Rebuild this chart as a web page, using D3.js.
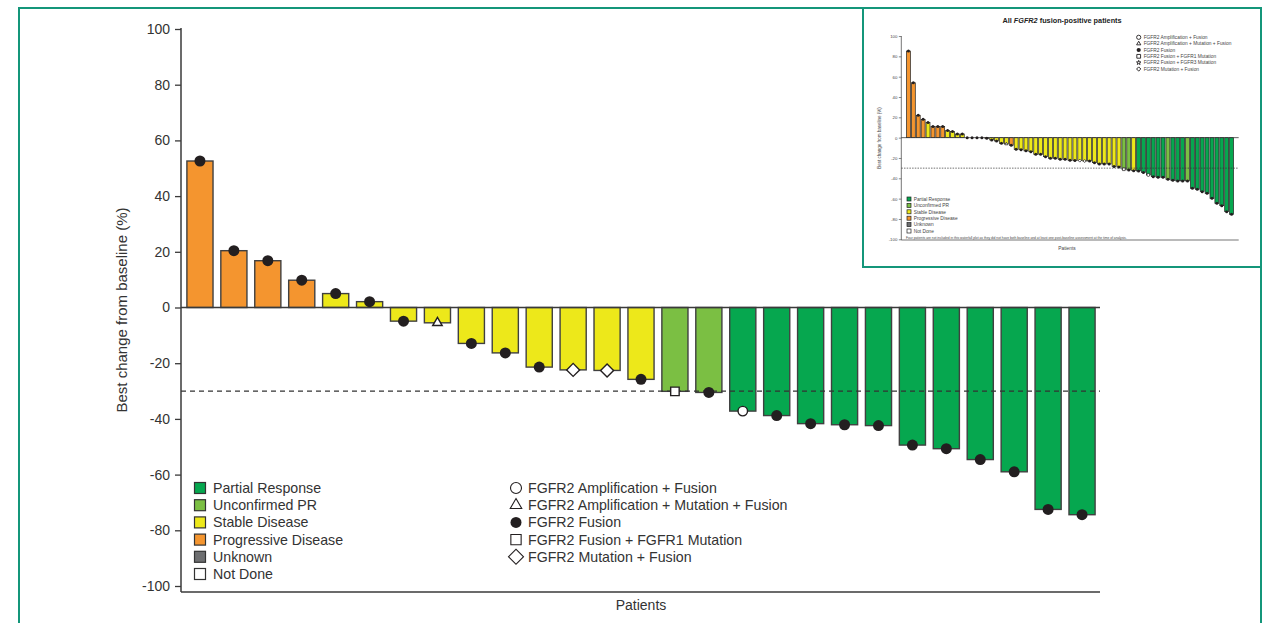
<!DOCTYPE html>
<html>
<head>
<meta charset="utf-8">
<script src="https://cdn.jsdelivr.net/npm/d3@7/dist/d3.min.js"></script>
<style>
    body { margin: 0; background: #fff; }
    svg { display: block; font-family: "Liberation Sans", Arial, sans-serif; }
</style>
</head>
<body>
<div id="chart"></div>
<script>
// ---- main waterfall (27 patients) ----
const patientValues = [52.6, 20.4, 16.8, 9.8, 5.0, 2.1, -4.9, -5.5, -12.9, -16.3, -21.4, -22.4, -22.6, -25.8,
    -30.1, -30.5, -37.2, -38.8, -41.7, -42.1, -42.4, -49.4, -50.7, -54.6, -59.0, -72.5, -74.4];
const patientResponse = ["PD", "PD", "PD", "PD", "SD", "SD", "SD", "SD", "SD", "SD", "SD", "SD", "SD", "SD",
    "uPR", "uPR", "PR", "PR", "PR", "PR", "PR", "PR", "PR", "PR", "PR", "PR", "PR"];
const patientMarker = ["fus", "fus", "fus", "fus", "fus", "fus", "fus", "ampMut", "fus", "fus", "fus", "mut", "mut", "fus",
    "fgfr1", "fus", "amp", "fus", "fus", "fus", "fus", "fus", "fus", "fus", "fus", "fus", "fus"];

// ---- inset waterfall (all FGFR2 fusion-positive, 67 patients) ----
const insetValues = [85.2, 54, 22, 18, 14.8, 11, 11, 11, 7, 6, 3.6, 3.6, 0, 0, 0, 0, -0.6, -2.3, -3.3,
    -5.6, -6.2, -7.5, -11.5, -11.8, -13, -13.8, -16.4, -16.4, -18.7, -20.3, -20.3, -21.3, -21.3, -22.3, -22.6,
    -22.6, -23, -23, -24.6, -25.9, -25.9, -25.9, -28.5, -28.9, -31.1, -31.8, -32.5, -32.8, -34.4, -36.7, -38.4,
    -39, -39, -41, -42, -42.6, -42.6, -42.6, -49.8, -50.8, -53.1, -54.8, -59.7, -64.6, -66.9, -72.8, -75.4];
const insetResponse = ["PD", "PD", "PD", "PD", "SD", "PD", "PD", "PD", "SD", "SD", "SD", "SD", "SD", "SD", "SD", "SD",
    "SD", "SD", "SD", "SD", "SD", "PD", "SD", "SD", "SD", "SD", "SD", "SD", "SD", "SD", "SD", "SD", "SD", "SD", "SD",
    "SD", "SD", "SD", "SD", "SD", "SD", "SD", "SD", "SD", "uPR", "uPR", "SD", "PR", "PR", "PR", "PR", "PR", "PR",
    "uPR", "PR", "PR", "PR", "uPR", "PR", "PR", "PR", "PR", "PR", "PR", "PR", "PR", "PR"];
const insetMarkerOverrides = { 20: "ampMut", 35: "mut", 36: "mut", 44: "fgfr1", 49: "amp" };

// ---- shared labels ----
const yTicks = [100, 80, 60, 40, 20, 0, -20, -40, -60, -80, -100];
const responseCodes = ["PR", "uPR", "SD", "PD", "UNK", "ND"];
const responseLabels = ["Partial Response", "Unconfirmed PR", "Stable Disease", "Progressive Disease", "Unknown", "Not Done"];
const responseColors = ["#06a74f", "#7bbf43", "#ede81a", "#f4952f", "#6d6e70", "#ffffff"];
const mainMarkerCodes = ["amp", "ampMut", "fus", "fgfr1", "mut"];
const mainMarkerLabels = ["FGFR2 Amplification + Fusion", "FGFR2 Amplification + Mutation + Fusion", "FGFR2 Fusion",
    "FGFR2 Fusion + FGFR1 Mutation", "FGFR2 Mutation + Fusion"];
const insetMarkerCodes = ["amp", "ampMut", "fus", "fgfr1", "fgfr3", "mut"];
const insetMarkerLabels = ["FGFR2 Amplification + Fusion", "FGFR2 Amplification + Mutation + Fusion", "FGFR2 Fusion",
    "FGFR2 Fusion + FGFR1 Mutation", "FGFR2 Fusion + FGFR3 Mutation", "FGFR2 Mutation + Fusion"];
const cutoff = -30;

const WIDTH = 1262, HEIGHT = 623;
const FRAME = "#14967a";
const INK = "#231f20";
const AXIS = "#3a3a3a";

const colorOf = d3.scaleOrdinal().domain(responseCodes).range(responseColors);
// plain hyphen minus like the source figure
const tickText = d => String(d);

const svg = d3.select("#chart").append("svg")
    .attr("width", WIDTH)
    .attr("height", HEIGHT);

// outer frame (open at the bottom)
svg.append("path")
    .attr("d", `M19,${HEIGHT + 2} V8 H1261 V${HEIGHT + 2}`)
    .attr("fill", "none")
    .attr("stroke", FRAME)
    .attr("stroke-width", 2);

// draws a marker shape; size is roughly the width in px
function drawMarker(sel, code, size, strokeW) {
    let type = d3.symbolCircle, area = Math.PI * (size / 2) ** 2, rot = 0, filled = false;
    if (code === "fus") filled = true;
    if (code === "ampMut") { type = d3.symbolTriangle; area = size * size * 0.433; }
    if (code === "fgfr1") { type = d3.symbolSquare; area = size * size * 0.8; }
    if (code === "mut") { type = d3.symbolSquare; area = size * size * 0.5; rot = 45; }
    if (code === "fgfr3") { type = d3.symbolStar; area = size * size * 0.35; }
    return sel.append("path")
        .attr("d", d3.symbol().type(type).size(area)())
        .attr("transform", rot ? `rotate(${rot})` : null)
        .attr("fill", filled ? INK : "#fff")
        .attr("stroke", INK)
        .attr("stroke-width", filled ? 0 : strokeW);
}

function drawMain() {
    const left = 181, right = 1100, top = 28, bottom = 592;
    const y = d3.scaleLinear().domain([-100, 100]).range([586, 29]);
    const x = d3.scaleBand()
        .domain(d3.range(patientValues.length))
        .range([183, 1099])
        .paddingInner(0.23)
        .paddingOuter(0.115);

    const g = svg.append("g");

    // bars
    g.selectAll("rect.bar")
        .data(patientValues)
        .enter()
        .append("rect")
        .attr("class", "bar")
        .attr("x", (d, i) => x(i))
        .attr("width", x.bandwidth())
        .attr("y", d => Math.min(y(d), y(0)))
        .attr("height", d => Math.abs(y(d) - y(0)))
        .attr("fill", (d, i) => colorOf(patientResponse[i]))
        .attr("stroke", "#404040")
        .attr("stroke-width", 1.4);

    // -30% reference
    g.append("line")
        .attr("x1", left).attr("x2", right)
        .attr("y1", y(cutoff)).attr("y2", y(cutoff))
        .attr("stroke", "#333")
        .attr("stroke-width", 1.3)
        .attr("stroke-dasharray", "5,4");

    // y axis
    const yAxis = d3.axisLeft(y).tickValues(yTicks).tickFormat(tickText).tickSize(6).tickPadding(5);
    const ya = g.append("g").attr("transform", `translate(${left},0)`).call(yAxis);
    ya.select(".domain").remove();
    ya.selectAll(".tick line").attr("stroke", AXIS).attr("stroke-width", 1.3);
    ya.selectAll(".tick text").attr("fill", "#333").attr("font-size", 14).attr("font-family", "Liberation Sans, Arial, sans-serif");
    g.append("line").attr("x1", left).attr("x2", left).attr("y1", top).attr("y2", bottom)
        .attr("stroke", AXIS).attr("stroke-width", 1.5);

    // zero line and bottom line
    g.append("line").attr("x1", left).attr("x2", right).attr("y1", y(0)).attr("y2", y(0))
        .attr("stroke", AXIS).attr("stroke-width", 1.5);
    g.append("line").attr("x1", left).attr("x2", right).attr("y1", bottom).attr("y2", bottom)
        .attr("stroke", AXIS).attr("stroke-width", 1.5);

    // markers on bar ends
    patientValues.forEach((v, i) => {
        const m = g.append("g").attr("transform", `translate(${x(i) + x.bandwidth() / 2},${y(v)})`);
        const code = patientMarker[i];
        const size = code === "fus" ? 11 : code === "mut" ? 13 : code === "amp" ? 9.5 : 9.5;
        drawMarker(m, code, size, 1.4);
    });

    // labels
    g.append("text")
        .attr("transform", `translate(127,${(top + bottom) / 2}) rotate(-90)`)
        .attr("text-anchor", "middle")
        .attr("font-size", 15)
        .attr("fill", "#333")
        .text("Best change from baseline (%)");
    g.append("text")
        .attr("x", 641).attr("y", 610)
        .attr("text-anchor", "middle")
        .attr("font-size", 14)
        .attr("fill", "#333")
        .text("Patients");

    // response legend
    const rowY = d3.scalePoint().domain(d3.range(6)).range([488, 574]);
    responseLabels.forEach((label, i) => {
        g.append("rect")
            .attr("x", 194.5).attr("y", rowY(i) - 5.5)
            .attr("width", 11).attr("height", 11)
            .attr("fill", responseColors[i])
            .attr("stroke", "#333").attr("stroke-width", 1.2);
        g.append("text")
            .attr("x", 213).attr("y", rowY(i) + 5)
            .attr("font-size", 14.2).attr("fill", "#333")
            .text(label);
    });

    // mutation legend
    mainMarkerLabels.forEach((label, i) => {
        const m = g.append("g").attr("transform", `translate(516,${rowY(i)})`);
        const code = mainMarkerCodes[i];
        const size = code === "mut" ? 15 : code === "ampMut" ? 11.5 : code === "fgfr1" ? 11.5 : 11;
        drawMarker(m, code, size, 1.1);
        g.append("text")
            .attr("x", 528).attr("y", rowY(i) + 5)
            .attr("font-size", 14.2).attr("fill", "#333")
            .text(label);
    });
}

function drawInset() {
    const ix0 = 863, iy0 = 8, ix1 = 1261, iy1 = 267;
    svg.append("rect")
        .attr("x", ix0).attr("y", iy0)
        .attr("width", ix1 - ix0).attr("height", iy1 - iy0)
        .attr("fill", "#fff")
        .attr("stroke", FRAME)
        .attr("stroke-width", 2);

    const left = 901.3, right = 1238.7, top = 36, bottom = 240;
    const y = d3.scaleLinear().domain([-100, 100]).range([239.3, 36]);
    const x = d3.scaleBand()
        .domain(d3.range(insetValues.length))
        .range([906, 1234])
        .paddingInner(0.2)
        .paddingOuter(0.1);

    const g = svg.append("g");

    g.append("text")
        .attr("x", 1062).attr("y", 22.5)
        .attr("text-anchor", "middle")
        .attr("font-size", 7.3)
        .attr("font-weight", "bold")
        .attr("fill", "#222")
        .call(t => {
            t.append("tspan").text("All ");
            t.append("tspan").attr("font-style", "italic").text("FGFR2");
            t.append("tspan").text(" fusion-positive patients");
        });

    g.selectAll("rect.ibar")
        .data(insetValues)
        .enter()
        .append("rect")
        .attr("class", "ibar")
        .attr("x", (d, i) => x(i))
        .attr("width", x.bandwidth())
        .attr("y", d => Math.min(y(d), y(0)))
        .attr("height", d => Math.abs(y(d) - y(0)))
        .attr("fill", (d, i) => colorOf(insetResponse[i]))
        .attr("stroke", "#222")
        .attr("stroke-width", 0.7);

    g.append("line")
        .attr("x1", left).attr("x2", right)
        .attr("y1", y(cutoff)).attr("y2", y(cutoff))
        .attr("stroke", "#333")
        .attr("stroke-width", 0.7)
        .attr("stroke-dasharray", "1.5,1.2");

    const yAxis = d3.axisLeft(y).tickValues(yTicks).tickFormat(tickText).tickSize(2.5).tickPadding(1.5);
    const ya = g.append("g").attr("transform", `translate(${left},0)`).call(yAxis);
    ya.select(".domain").remove();
    ya.selectAll(".tick line").attr("stroke", AXIS).attr("stroke-width", 0.6);
    ya.selectAll(".tick text").attr("fill", "#444").attr("font-size", 4.3).attr("font-family", "Liberation Sans, Arial, sans-serif");
    g.append("line").attr("x1", left).attr("x2", left).attr("y1", top).attr("y2", bottom)
        .attr("stroke", AXIS).attr("stroke-width", 0.7);
    g.append("line").attr("x1", left).attr("x2", right).attr("y1", y(0)).attr("y2", y(0))
        .attr("stroke", AXIS).attr("stroke-width", 0.8);
    g.append("line").attr("x1", left).attr("x2", right).attr("y1", bottom).attr("y2", bottom)
        .attr("stroke", AXIS).attr("stroke-width", 0.7);

    insetValues.forEach((v, i) => {
        const code = insetMarkerOverrides[i] || "fus";
        const m = g.append("g").attr("transform", `translate(${x(i) + x.bandwidth() / 2},${y(v)})`);
        drawMarker(m, code, 3, 0.7);
    });

    g.append("text")
        .attr("transform", `translate(881,${(top + bottom) / 2}) rotate(-90)`)
        .attr("text-anchor", "middle")
        .attr("font-size", 4.5)
        .attr("fill", "#444")
        .text("Best change from baseline (%)");
    g.append("text")
        .attr("x", 1067).attr("y", 250)
        .attr("text-anchor", "middle")
        .attr("font-size", 4.8)
        .attr("fill", "#444")
        .text("Patients");
    g.append("text")
        .attr("x", 906).attr("y", 238.5)
        .attr("font-size", 3.3)
        .attr("fill", "#444")
        .text("Four patients are not included in this waterfall plot as they did not have both baseline and at least one post-baseline assessment at the time of analysis.");

    const leftRows = d3.scalePoint().domain(d3.range(6)).range([199, 231]);
    responseLabels.forEach((label, i) => {
        g.append("rect")
            .attr("x", 907).attr("y", leftRows(i) - 2)
            .attr("width", 4).attr("height", 4)
            .attr("fill", responseColors[i])
            .attr("stroke", "#222").attr("stroke-width", 0.7);
        g.append("text")
            .attr("x", 913.7).attr("y", leftRows(i) + 1.7)
            .attr("font-size", 4.8).attr("fill", "#444")
            .text(label);
    });

    const rightRows = d3.scalePoint().domain(d3.range(6)).range([37.3, 69]);
    insetMarkerLabels.forEach((label, i) => {
        const m = g.append("g").attr("transform", `translate(1138.7,${rightRows(i)})`);
        drawMarker(m, insetMarkerCodes[i], 4.2, 0.9);
        g.append("text")
            .attr("x", 1143.7).attr("y", rightRows(i) + 1.7)
            .attr("font-size", 4.8).attr("fill", "#444")
            .text(label);
    });
}

drawMain();
drawInset();
</script>
</body>
</html>
